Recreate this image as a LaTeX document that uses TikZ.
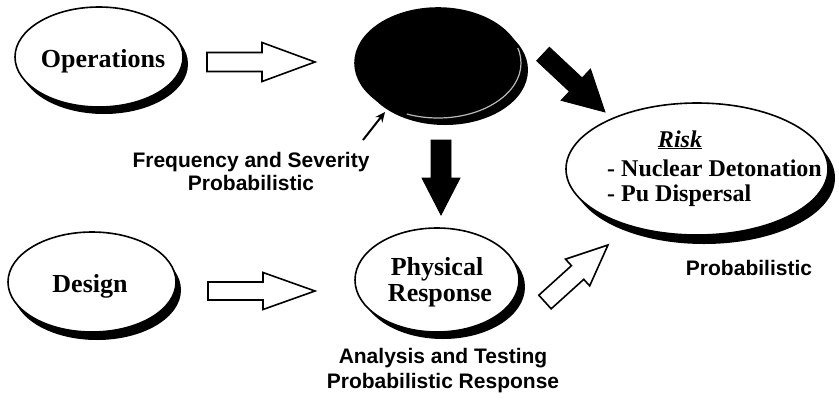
\documentclass[tikz,border=0pt]{standalone}
\usepackage{fontspec}
\setmainfont{Liberation Serif}
\setsansfont{Liberation Sans}
\usetikzlibrary{calc,arrows.meta,shapes.geometric,shadows}

% block arrow: style, name, tail, tip, shaft half-width, head half-width, head length
\newcommand\blockarrow[7]{%
  \coordinate (#2-neck) at ($(#4)!#7!(#3)$);
  \draw[#1] ($(#3)!#5!90:(#4)$) -- ($(#2-neck)!#5!90:(#4)$)
    -- ($(#2-neck)!#6!90:(#4)$) -- (#4)
    -- ($(#2-neck)!#6!-90:(#4)$) -- ($(#2-neck)!#5!-90:(#4)$)
    -- ($(#3)!#5!-90:(#4)$) -- cycle;}

\begin{document}
\begin{tikzpicture}[x=1pt,y=-1pt,
  lbl/.style={font=\bfseries\fontsize{26}{30}\selectfont, inner sep=0pt, anchor=base},
  risklbl/.style={font=\bfseries\fontsize{24}{28}\selectfont, inner sep=0pt, anchor=base west},
  note/.style={font=\sffamily\bfseries\fontsize{21}{24}\selectfont, inner sep=0pt, anchor=base},
  oval/.style={ellipse, draw=black, fill=white, line width=1.6pt, inner sep=0pt},
  hollow/.style={draw=black, fill=white, line width=1.6pt, line join=miter},
  solidarr/.style={draw=black, fill=black, line width=0.8pt, line join=miter},
]
\useasboundingbox (0,0) rectangle (839,400);
\fill[white] (0,0) rectangle (839,400);

% ovals with their dark crescents
\node[oval, minimum width=168pt, minimum height=100pt,
  drop shadow={shadow xshift=5pt, shadow yshift=-7pt, fill=black, opacity=1}] (ops) at (99,57) {};
\node[oval, minimum width=168pt, minimum height=100pt,
  drop shadow={shadow xshift=5pt, shadow yshift=-8pt, fill=black, opacity=1}] (des) at (92,282) {};
\node[oval, minimum width=164pt, minimum height=104pt,
  drop shadow={shadow xshift=6pt, shadow yshift=-7pt, fill=black, opacity=1}] (phy) at (437,280) {};
\node[oval, minimum width=262pt, minimum height=132pt,
  drop shadow={shadow xshift=7pt, shadow yshift=-9pt, fill=black, opacity=1}] (risk) at (697,169) {};
\node[oval, fill=black, minimum width=166pt, minimum height=110pt,
  drop shadow={shadow xshift=7pt, shadow yshift=-7pt, fill=black, opacity=1}] (blk) at (438,63) {};
\begin{scope}
  \clip (blk.center) -- (385,150) -- (560,150) -- (560,40) -- cycle;
  \draw[gray!55, line width=1.2pt] (blk.center) ellipse [x radius=83, y radius=55];
\end{scope}

% labels inside the ovals
\node[lbl] (opsT) at (103,67) {Operations};
\node[lbl] (desT) at (90,292) {Design};
\node[lbl] (phyT1) at (437,275) {Physical};
\node[lbl] (phyT2) at (440,301) {Response};
\node[font=\bfseries\itshape\fontsize{24}{28}\selectfont, inner sep=0pt, anchor=base]
  (riskT) at (680,147) {\underline{Risk}};
\node[risklbl] (risk1) at (607,176) {- Nuclear Detonation};
\node[risklbl] (risk2) at (607,201) {- Pu Dispersal};

% captions
\node[note] (freq1) at (251,167) {Frequency and Severity};
\node[note] (freq2) at (251,190) {Probabilistic};
\node[note] (ana1) at (443,363) {Analysis and Testing};
\node[note] (ana2) at (443,388) {Probabilistic Response};
\node[note] (riskP) at (749,275) {Probabilistic};

% block arrows
\coordinate (a1t) at (207,62);  \coordinate (a1h) at (315,62);
\coordinate (a2t) at (208,291); \coordinate (a2h) at (315,291);
\coordinate (a3t) at (441,140); \coordinate (a3h) at (441,215);
\coordinate (a4t) at (543,54);  \coordinate (a4h) at (605,112);
\coordinate (a5t) at (545,302); \coordinate (a5h) at (608,245);
\blockarrow{hollow}{a1}{a1t}{a1h}{9.5pt}{19.5pt}{53pt}
\blockarrow{hollow}{a2}{a2t}{a2h}{9pt}{18.5pt}{52pt}
\blockarrow{solidarr}{a3}{a3t}{a3h}{10pt}{19pt}{37pt}
\blockarrow{solidarr}{a4}{a4t}{a4h}{9.3pt}{21.5pt}{40pt}
\blockarrow{hollow}{a5}{a5t}{a5h}{9.2pt}{18pt}{41pt}

% pointer to the dark oval
\coordinate (ptrT) at (363,140);
\coordinate (ptrH) at (385,112);
\draw[line width=2pt, -{Stealth[length=10pt,width=9pt]}] (ptrT) -- (ptrH);
\end{tikzpicture}
\end{document}
